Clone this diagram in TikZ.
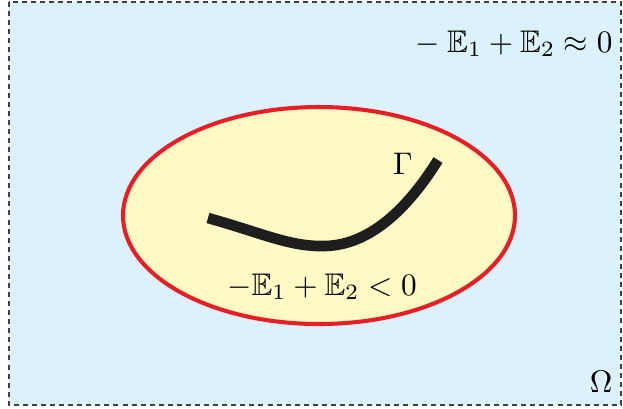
\documentclass[tikz,border=0pt]{standalone}
\usepackage{amssymb}
\definecolor{bgblue}{RGB}{219,241,252}
\definecolor{inyellow}{RGB}{255,249,196}
\definecolor{rimred}{RGB}{232,30,38}
\definecolor{curveblack}{RGB}{30,30,30}
\begin{document}
\begin{tikzpicture}[x=0.32pt,y=-0.32pt,
  domainbox/.style={draw=black!75,fill=bgblue,line width=0.4pt,dash pattern=on 1.6pt off 1.3pt},
  regionrim/.style={draw=rimred,fill=inyellow,line width=1.3pt},
  curvestroke/.style={draw=curveblack,line width=3.4pt,line cap=butt},
  lbl/.style={inner sep=0pt}]
\useasboundingbox (0,0) rectangle (623,408);
\draw[domainbox] (9,2) rectangle (621,405);
\draw[regionrim] (319,215.5) ellipse [x radius=196, y radius=108.5];
\draw[curvestroke] (208,218) .. controls (262,233) and (290,247) .. (325,246)
   .. controls (372,245) and (410,205) .. (438,160);
\node[lbl] (gamma) at (403,164) {$\Gamma$};
\node[lbl,anchor=base] (inner) at (322,295) {$-\mathbb{E}_1+\mathbb{E}_2<0$};
\node[lbl,anchor=base east] (outer) at (613,52) {${}-\mathbb{E}_1+\mathbb{E}_2\approx 0$};
\node[lbl,anchor=base east] (omega) at (613,392) {$\Omega$};
\end{tikzpicture}
\end{document}
